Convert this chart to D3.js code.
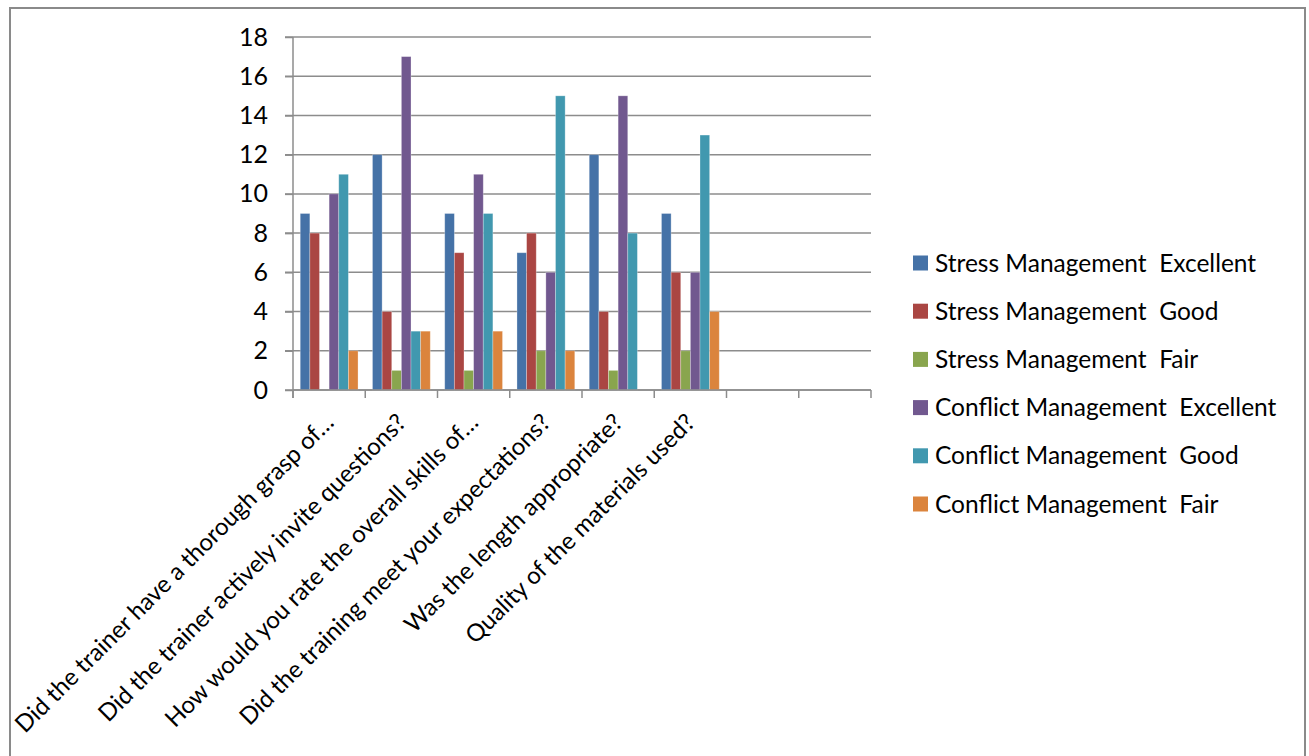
<!DOCTYPE html>
<html>
<head>
<meta charset="utf-8">
<script src="https://cdn.jsdelivr.net/npm/d3@7"></script>
<style>
  html, body { margin: 0; padding: 0; background: #fff; }
  svg { display: block; font-family: Lato, "Open Sans", sans-serif; }
</style>
</head>
<body>
<div id="chart"></div>
<script>
// questions (two trailing empty slots exist in the source sheet)
const categories = [
  "Did the trainer have a thorough grasp of…",
  "Did the trainer actively invite questions?",
  "How would you rate the overall skills of…",
  "Did the training meet your expectations?",
  "Was the length appropriate?",
  "Quality of the materials used?",
  "",
  " "
];

const seriesNames = [
  "Stress Management  Excellent",
  "Stress Management  Good",
  "Stress Management  Fair",
  "Conflict Management  Excellent",
  "Conflict Management  Good",
  "Conflict Management  Fair"
];

const stressExcellent = [9, 12, 9, 7, 12, 9, null, null];
const stressGood = [8, 4, 7, 8, 4, 6, null, null];
const stressFair = [0, 1, 1, 2, 1, 2, null, null];
const conflictExcellent = [10, 17, 11, 6, 15, 6, null, null];
const conflictGood = [11, 3, 9, 15, 8, 13, null, null];
const conflictFair = [2, 3, 3, 2, 0, 4, null, null];

const yTicks = [0, 2, 4, 6, 8, 10, 12, 14, 16, 18];

const colors = ["#4572A7", "#AA4643", "#89A54E", "#71588F", "#4198AF", "#DB843D"];

const seriesValues = [
  stressExcellent, stressGood, stressFair,
  conflictExcellent, conflictGood, conflictFair
];

const width = 1309, height = 756;
const plot = { left: 293, right: 871, top: 37, bottom: 390 };

const svg = d3.select("#chart")
  .append("svg")
  .attr("width", width)
  .attr("height", height);

// outer chart frame (bottom edge is cut off in the reference)
svg.append("path")
  .attr("d", `M10,${height + 5} L10,8 L1305,8 L1305,${height + 5}`)
  .attr("fill", "none")
  .attr("stroke", "#8a8a8a")
  .attr("stroke-width", 2);

const x = d3.scaleBand()
  .domain(categories)
  .range([plot.left, plot.right])
  .paddingInner(0)
  .paddingOuter(0);

const xInner = d3.scaleBand()
  .domain(seriesNames)
  .range([0, x.bandwidth()])
  .paddingInner(0)
  .paddingOuter(0.75);

const y = d3.scaleLinear()
  .domain([0, 18])
  .range([plot.bottom, plot.top]);

// gridlines
svg.append("g")
  .selectAll("line")
  .data(yTicks)
  .enter()
  .append("line")
  .attr("x1", plot.left - 8)
  .attr("x2", plot.right)
  .attr("y1", d => y(d))
  .attr("y2", d => y(d))
  .attr("stroke", "#8c8c8c")
  .attr("stroke-width", 1.5);

// y axis
const yAxis = svg.append("g")
  .attr("transform", `translate(${plot.left},0)`)
  .call(d3.axisLeft(y).tickValues(yTicks).tickSize(8).tickPadding(17));
yAxis.select(".domain").remove();
yAxis.selectAll(".tick line").attr("stroke", "#8c8c8c").attr("stroke-width", 1.5);
yAxis.selectAll(".tick text")
  .attr("fill", "#000")
  .style("font-family", "Lato, sans-serif")
  .style("font-size", "25px");

svg.append("line")
  .attr("x1", plot.left).attr("x2", plot.left)
  .attr("y1", plot.top).attr("y2", plot.bottom + 8)
  .attr("stroke", "#8c8c8c")
  .attr("stroke-width", 1.5);

// category boundary ticks
const boundaries = categories.map(c => x(c)).concat([plot.right]);
svg.append("g")
  .selectAll("line")
  .data(boundaries)
  .enter()
  .append("line")
  .attr("x1", d => d).attr("x2", d => d)
  .attr("y1", plot.bottom).attr("y2", plot.bottom + 8)
  .attr("stroke", "#8c8c8c")
  .attr("stroke-width", 1.5);

// bars
const groups = svg.append("g")
  .selectAll("g")
  .data(seriesNames)
  .enter()
  .append("g")
  .attr("fill", (d, i) => colors[i]);

groups.selectAll("rect")
  .data((d, i) => categories.map((c, j) => ({ cat: c, name: d, value: seriesValues[i][j] })))
  .enter()
  .filter(d => d.value != null && d.value > 0)
  .append("rect")
  .attr("x", d => x(d.cat) + xInner(d.name))
  .attr("width", xInner.bandwidth())
  .attr("y", d => y(d.value))
  .attr("height", d => y(0) - y(d.value))
  .attr("stroke", "rgba(255,255,255,0.35)")
  .attr("stroke-width", 0.8);

// x axis baseline on top of bars
svg.append("line")
  .attr("x1", plot.left).attr("x2", plot.right)
  .attr("y1", plot.bottom).attr("y2", plot.bottom)
  .attr("stroke", "#8c8c8c")
  .attr("stroke-width", 1.5);

// rotated category labels
svg.append("g")
  .selectAll("text")
  .data(categories.filter(c => c.trim() !== ""))
  .enter()
  .append("text")
  .attr("transform", d => `translate(${x(d) + x.bandwidth() / 2 + 6},424) rotate(-45)`)
  .attr("text-anchor", "end")
  .style("font-size", "24px")
  .attr("fill", "#000")
  .text(d => d);

// legend
const legend = svg.append("g")
  .selectAll("g")
  .data(seriesNames)
  .enter()
  .append("g")
  .attr("transform", (d, i) => `translate(913,${263 + i * 48.2})`);

legend.append("rect")
  .attr("x", 0)
  .attr("y", -7.5)
  .attr("width", 15)
  .attr("height", 15)
  .attr("fill", (d, i) => colors[i]);

legend.append("text")
  .attr("x", 22)
  .attr("dy", "0.35em")
  .style("font-size", "24.5px")
  .style("white-space", "pre")
  .attr("fill", "#000")
  .text(d => d);
</script>
</body>
</html>
